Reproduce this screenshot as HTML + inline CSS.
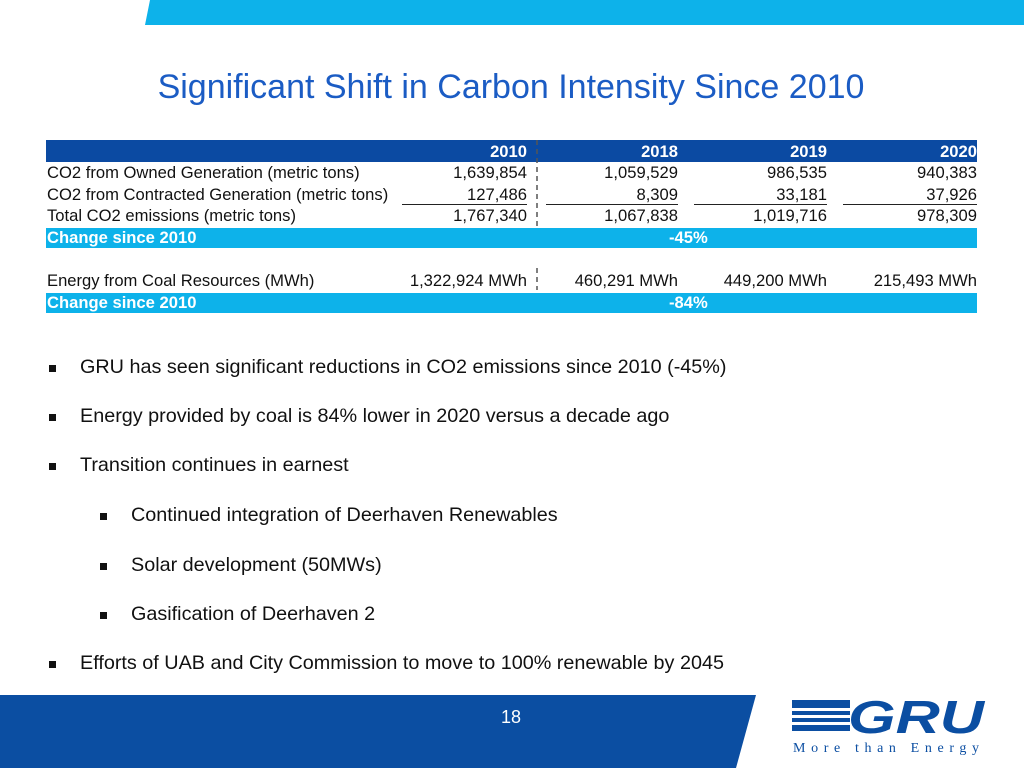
<!DOCTYPE html>
<html><head><meta charset="utf-8"><style>
body{margin:0;width:1024px;height:768px;position:relative;overflow:hidden;background:#fff;font-family:"Liberation Sans",sans-serif}
.a{position:absolute;white-space:nowrap}
.t{font-size:16.6px;color:#111;line-height:18px}
.r{text-align:right}
.b{font-size:19.8px;color:#111}
.m{position:absolute;width:7px;height:7px;background:#111}
</style></head><body>
<svg class="a" style="left:0;top:0" width="1024" height="768">
<polygon points="150,0 1024,0 1024,25 145,25" fill="#0db2ea"/>
<polygon points="0,695 756,695 736,768 0,768" fill="#0b4ea2"/>
<rect x="46" y="140" width="931" height="22" fill="#0b4aa2"/>
<rect x="46" y="228" width="931" height="20" fill="#0db2ea"/>
<rect x="46" y="293" width="931" height="20" fill="#0db2ea"/>
<line x1="537" y1="140" x2="537" y2="228" stroke="#555" stroke-dasharray="5,4" stroke-width="1.5"/>
<line x1="537" y1="268" x2="537" y2="290" stroke="#555" stroke-dasharray="5,4" stroke-width="1.5"/>
<g stroke="#222" stroke-width="1"><line x1="402" y1="204.5" x2="527" y2="204.5"/><line x1="546" y1="204.5" x2="678" y2="204.5"/><line x1="694" y1="204.5" x2="827" y2="204.5"/><line x1="843" y1="204.5" x2="977" y2="204.5"/></g>
<g fill="#0b4ea2">
<rect x="792" y="700" width="58" height="8"/><rect x="792" y="711" width="58" height="4"/><rect x="792" y="718" width="58" height="4"/><rect x="792" y="725" width="58" height="6"/>
<text x="848" y="733" font-family="Liberation Sans" font-weight="bold" font-style="italic" font-size="46" textLength="136" lengthAdjust="spacingAndGlyphs">GRU</text>
<text x="793" y="752" font-family="Liberation Serif" font-size="14" letter-spacing="4" textLength="190">More than Energy</text>
</g>
</svg>
<div class="a" style="left:0;width:1022px;text-align:center;top:68px;font-size:34px;color:#1b5cc4">Significant Shift in Carbon Intensity Since 2010</div>
<div class="a t r" style="left:400px;width:127px;top:143px;color:#fff;font-weight:bold">2010</div>
<div class="a t r" style="left:550px;width:128px;top:143px;color:#fff;font-weight:bold">2018</div>
<div class="a t r" style="left:700px;width:127px;top:143px;color:#fff;font-weight:bold">2019</div>
<div class="a t r" style="left:850px;width:127px;top:143px;color:#fff;font-weight:bold">2020</div>
<div>
<div class="a t" style="left:47px;top:164px">CO2 from Owned Generation (metric tons)</div>
<div class="a t r" style="left:400px;width:127px;top:164px">1,639,854</div><div class="a t r" style="left:550px;width:128px;top:164px">1,059,529</div><div class="a t r" style="left:700px;width:127px;top:164px">986,535</div><div class="a t r" style="left:850px;width:127px;top:164px">940,383</div></div>
<div>
<div class="a t" style="left:47px;top:186px">CO2 from Contracted Generation (metric tons)</div>
<div class="a t r" style="left:400px;width:127px;top:186px">127,486</div><div class="a t r" style="left:550px;width:128px;top:186px">8,309</div><div class="a t r" style="left:700px;width:127px;top:186px">33,181</div><div class="a t r" style="left:850px;width:127px;top:186px">37,926</div></div>
<div>
<div class="a t" style="left:47px;top:207px">Total CO2 emissions (metric tons)</div>
<div class="a t r" style="left:400px;width:127px;top:207px">1,767,340</div><div class="a t r" style="left:550px;width:128px;top:207px">1,067,838</div><div class="a t r" style="left:700px;width:127px;top:207px">1,019,716</div><div class="a t r" style="left:850px;width:127px;top:207px">978,309</div></div>
<div class="a t" style="left:47px;top:229px;color:#fff;font-weight:bold">Change since 2010</div>
<div class="a t" style="left:669px;top:229px;color:#fff;font-weight:bold">-45%</div>
<div>
<div class="a t" style="left:47px;top:272px">Energy from Coal Resources (MWh)</div>
<div class="a t r" style="left:380px;width:147px;top:272px">1,322,924 MWh</div><div class="a t r" style="left:550px;width:128px;top:272px">460,291 MWh</div><div class="a t r" style="left:700px;width:127px;top:272px">449,200 MWh</div><div class="a t r" style="left:850px;width:127px;top:272px">215,493 MWh</div></div>
<div class="a t" style="left:47px;top:294px;color:#fff;font-weight:bold">Change since 2010</div>
<div class="a t" style="left:669px;top:294px;color:#fff;font-weight:bold">-84%</div>
<div>
<div class="m" style="left:49px;top:365px"></div><div class="a b" style="left:80px;top:356px">GRU has seen significant reductions in CO2 emissions since 2010 (-45%)</div>
<div class="m" style="left:49px;top:414px"></div><div class="a b" style="left:80px;top:405px">Energy provided by coal is 84% lower in 2020 versus a decade ago</div>
<div class="m" style="left:49px;top:463px"></div><div class="a b" style="left:80px;top:454px">Transition continues in earnest</div>
<div class="m" style="left:100px;top:513px"></div><div class="a b" style="left:131px;top:504px">Continued integration of Deerhaven Renewables</div>
<div class="m" style="left:100px;top:563px"></div><div class="a b" style="left:131px;top:554px">Solar development (50MWs)</div>
<div class="m" style="left:100px;top:612px"></div><div class="a b" style="left:131px;top:603px">Gasification of Deerhaven 2</div>
<div class="m" style="left:49px;top:661px"></div><div class="a b" style="left:80px;top:652px">Efforts of UAB and City Commission to move to 100% renewable by 2045</div>
</div>
<div class="a" style="left:490px;width:42px;text-align:center;top:707px;color:#fff;font-size:18px">18</div>
</body></html>
